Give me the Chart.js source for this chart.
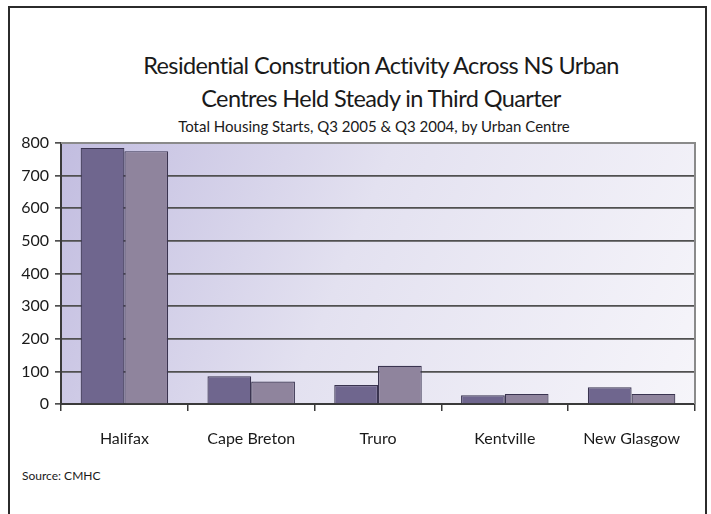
<!DOCTYPE html>
<html>
<head>
<meta charset="utf-8">
<script src="https://cdn.jsdelivr.net/npm/chart.js@4.4.1/dist/chart.umd.min.js"></script>
<style>
  html, body { margin: 0; padding: 0; background: #ffffff; }
  #wrap { position: relative; width: 711px; height: 514px; overflow: hidden; font-family: Lato, "Noto Sans", sans-serif; color: #1a1a1a; }
  #frame { position: absolute; left: 8px; top: 6px; width: 695px; height: 600px; border: 2px solid #2b2b2b; border-bottom: none; }
  #chartBox { position: absolute; left: 0; top: 0; width: 711px; height: 514px; }
  .t1 { position: absolute; left: 0; width: 762px; text-align: center; font-size: 23.5px; letter-spacing: -0.6px; }
  #title1 { top: 51px; }
  #title2 { top: 84px; }
  #subtitle { position: absolute; left: 0; width: 748px; top: 117px; text-align: center; font-size: 15px; }
  #source { position: absolute; left: 22px; top: 468px; font-size: 12px; }
</style>
</head>
<body>
<div id="wrap">
  <div id="frame"></div>
  <div id="title1" class="t1">Residential Constrution Activity Across NS Urban</div>
  <div id="title2" class="t1">Centres Held Steady in Third Quarter</div>
  <div id="subtitle">Total Housing Starts, Q3 2005 &amp; Q3 2004, by Urban Centre</div>
  <div id="source">Source: CMHC</div>
  <div id="chartBox"><canvas id="c" width="711" height="514"></canvas></div>
</div>
<script>
const categories = ['Halifax', 'Cape Breton', 'Truro', 'Kentville', 'New Glasgow'];
const seriesNames = ['Q3 2005', 'Q3 2004'];
const q3_2005 = [785, 85, 58, 27, 51];
const q3_2004 = [775, 69, 117, 31, 31];
const yTicks = [0, 100, 200, 300, 400, 500, 600, 700, 800];

const plotBg = {
  id: 'plotBg',
  beforeDraw(chart) {
    const a = chart.chartArea, ctx = chart.ctx;
    const g = ctx.createLinearGradient(a.left, a.top, a.right, a.bottom);
    g.addColorStop(0, '#c2bde0');
    g.addColorStop(0.45, '#e3e1f0');
    g.addColorStop(1, '#f6f5fa');
    ctx.save();
    ctx.fillStyle = g;
    ctx.fillRect(a.left, a.top, a.right - a.left, a.bottom - a.top);
    ctx.restore();
  },
  afterDatasetsDraw(chart) {
    const a = chart.chartArea, ctx = chart.ctx;
    ctx.save();
    ctx.strokeStyle = '#8a8a8a';
    ctx.lineWidth = 2;
    ctx.beginPath();
    ctx.moveTo(a.left, a.top);
    ctx.lineTo(a.right, a.top);
    ctx.lineTo(a.right, a.bottom);
    ctx.stroke();
    ctx.restore();
  }
};

new Chart(document.getElementById('c'), {
  type: 'bar',
  data: {
    labels: categories,
    datasets: [
      { label: seriesNames[0], data: q3_2005, backgroundColor: '#6f668e', borderColor: '#3a3450', borderWidth: 1.2 },
      { label: seriesNames[1], data: q3_2004, backgroundColor: '#8f849d', borderColor: '#3a3450', borderWidth: 1.2 }
    ]
  },
  plugins: [plotBg],
  options: {
    responsive: false,
    animation: false,
    devicePixelRatio: 1,
    layout: { padding: { left: 0, right: 16, top: 143, bottom: 0 } },
    datasets: { bar: { categoryPercentage: 0.69, barPercentage: 1.0 } },
    plugins: { legend: { display: false }, tooltip: { enabled: false } },
    scales: {
      x: {
        offset: true,
        grid: { display: true, drawOnChartArea: false, color: '#3a3a3a', lineWidth: 1.5, tickLength: 7, offset: true },
        border: { display: true, color: '#3a3a3a', width: 2 },
        ticks: { color: '#1a1a1a', font: { family: 'Lato', size: 16 }, padding: 18 },
        afterFit(s) { s.height = 110; }
      },
      y: {
        min: 0, max: 800,
        afterBuildTicks(s) { s.ticks = yTicks.map(v => ({ value: v })); },
        grid: { color: '#505050', lineWidth: 1.7, tickLength: 6 },
        border: { display: true, color: '#3a3a3a', width: 2 },
        ticks: { color: '#1a1a1a', font: { family: 'Lato', size: 16 }, padding: 6 },
        afterFit(s) { s.width = 61; }
      }
    }
  }
});
</script>
</body>
</html>
